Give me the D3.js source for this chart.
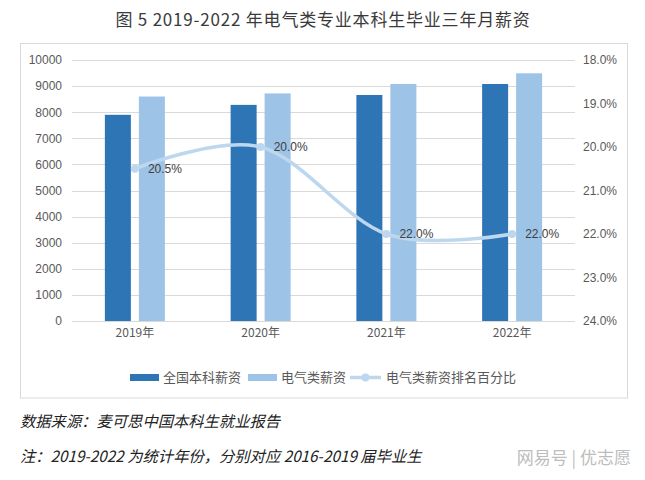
<!DOCTYPE html>
<html><head><meta charset="utf-8">
<script src="https://cdn.jsdelivr.net/npm/d3@7"></script>
<style>
body{margin:0;background:#fff;}
svg{display:block;}
</style></head>
<body><svg id="c" width="645" height="480"></svg>
<script>
const categories = ["2019年","2020年","2021年","2022年"];
const nationalSalary = [7900, 8280, 8660, 9080];
const electricSalary = [8600, 8720, 9080, 9490];
const rankPct = [20.5, 20.0, 22.0, 22.0];
const rankLabels = ["20.5%","20.0%","22.0%","22.0%"];
const leftTicks = [0,1000,2000,3000,4000,5000,6000,7000,8000,9000,10000];
const rightTicks = [18,19,20,21,22,23,24];
const seriesNames = ["全国本科薪资","电气类薪资","电气类薪资排名百分比"];

const svg = d3.select("#c");
const font = "'Liberation Sans', Arial, sans-serif";
const cjk = "'Noto Sans CJK SC', sans-serif";
const C1 = "#2e75b6", C2 = "#9dc3e6", C3 = "#bdd7ee";

// title
svg.append("text").attr("x", 323).attr("y", 26).attr("text-anchor","middle")
  .attr("font-family", cjk).attr("font-size", 17).attr("letter-spacing", 0.8).attr("fill","#3a3a3a")
  .text("图 5 2019-2022 年电气类专业本科生毕业三年月薪资");

// box
svg.append("rect").attr("x",20.5).attr("y",43.5).attr("width",607).attr("height",354.5)
  .attr("fill","none").attr("stroke","#d9d9d9");

const x0 = 72, x1 = 575, yTop = 60, yBot = 321;
const x = d3.scaleBand().domain(categories).range([x0,x1]);
const yL = d3.scaleLinear().domain([0,10000]).range([yBot,yTop]);
const yR = d3.scaleLinear().domain([18,24]).range([yTop,yBot]);

// gridlines
svg.append("g").selectAll("line").data(leftTicks).join("line")
  .attr("x1",x0).attr("x2",x1).attr("y1",d=>Math.round(yL(d))+0.5).attr("y2",d=>Math.round(yL(d))+0.5)
  .attr("stroke","#d9d9d9").attr("stroke-width",1);

// left axis labels
const axL = d3.axisLeft(yL).tickValues(leftTicks).tickSize(0).tickPadding(0).tickFormat(d=>String(d));
const gL = svg.append("g").attr("transform",`translate(62,0)`).call(axL);
gL.select(".domain").remove();
gL.selectAll("text").attr("font-family",font).attr("font-size",12).attr("fill","#595959");

// right axis labels
const axR = d3.axisRight(yR).tickValues(rightTicks).tickSize(0).tickPadding(0).tickFormat(d=>d.toFixed(1)+"%");
const gR = svg.append("g").attr("transform",`translate(583,0)`).call(axR);
gR.select(".domain").remove();
gR.selectAll("text").attr("font-family",font).attr("font-size",12).attr("fill","#595959");

// x axis labels
const axX = d3.axisBottom(x).tickSize(0).tickPadding(0);
const gX = svg.append("g").attr("transform",`translate(0,${yBot+7})`).call(axX);
gX.select(".domain").remove();
gX.selectAll("text").attr("font-family",cjk).attr("font-size",12).attr("fill","#595959").attr("dy","0.71em");

// bars
const bw = 26, gap = 4;
svg.append("g").selectAll("rect").data(nationalSalary).join("rect")
  .attr("x",(d,i)=>x(categories[i])+x.bandwidth()/2-gap-bw).attr("width",bw)
  .attr("y",d=>yL(d)).attr("height",d=>yBot-yL(d)).attr("fill",C1);
svg.append("g").selectAll("rect").data(electricSalary).join("rect")
  .attr("x",(d,i)=>x(categories[i])+x.bandwidth()/2+gap).attr("width",bw)
  .attr("y",d=>yL(d)).attr("height",d=>yBot-yL(d)).attr("fill",C2);

// line
const pts = rankPct.map((v,i)=>[x(categories[i])+x.bandwidth()/2, yR(v)]);
svg.append("path").attr("d", d3.line().curve(d3.curveCatmullRom.alpha(0))(pts))
  .attr("fill","none").attr("stroke",C3).attr("stroke-width",3.5).attr("stroke-linecap","round");
svg.append("g").selectAll("circle").data(pts).join("circle")
  .attr("cx",d=>d[0]).attr("cy",d=>d[1]).attr("r",4).attr("fill",C3);
svg.append("g").selectAll("text").data(pts).join("text")
  .attr("x",d=>d[0]+13).attr("y",d=>d[1]).attr("dy","0.35em")
  .attr("font-family",font).attr("font-size",12).attr("fill","#404040")
  .text((d,i)=>rankLabels[i]);

// legend
const lg = svg.append("g");
lg.append("rect").attr("x",130).attr("y",374).attr("width",29).attr("height",7).attr("fill",C1);
lg.append("text").attr("x",163).attr("y",377.5).attr("dy","0.35em").attr("font-family",cjk).attr("font-size",13).attr("fill","#595959").text(seriesNames[0]);
lg.append("rect").attr("x",248).attr("y",374).attr("width",29).attr("height",7).attr("fill",C2);
lg.append("text").attr("x",281).attr("y",377.5).attr("dy","0.35em").attr("font-family",cjk).attr("font-size",13).attr("fill","#595959").text(seriesNames[1]);
lg.append("line").attr("x1",350).attr("x2",381).attr("y1",377.5).attr("y2",377.5).attr("stroke",C3).attr("stroke-width",3.5);
lg.append("circle").attr("cx",365.5).attr("cy",377.5).attr("r",4).attr("fill",C3);
lg.append("text").attr("x",386).attr("y",377.5).attr("dy","0.35em").attr("font-family",cjk).attr("font-size",13).attr("fill","#595959").text(seriesNames[2]);

// footer
svg.append("text").attr("x",20).attr("y",422).attr("dy","0.35em").attr("font-family",cjk).attr("font-size",15.3)
  .attr("font-style","italic").attr("fill","#222").text("数据来源：麦可思中国本科生就业报告");
svg.append("text").attr("x",20).attr("y",457).attr("dy","0.35em").attr("font-family",cjk).attr("font-size",15.3)
  .attr("font-style","italic").attr("fill","#222").text("注：2019-2022 为统计年份，分别对应 2016-2019 届毕业生");
svg.append("text").attr("x",631).attr("y",458).attr("dy","0.35em").attr("text-anchor","end").attr("font-family",cjk).attr("font-size",17)
  .attr("fill","#bdbdbd").text("网易号 | 优志愿");
</script></body></html>
